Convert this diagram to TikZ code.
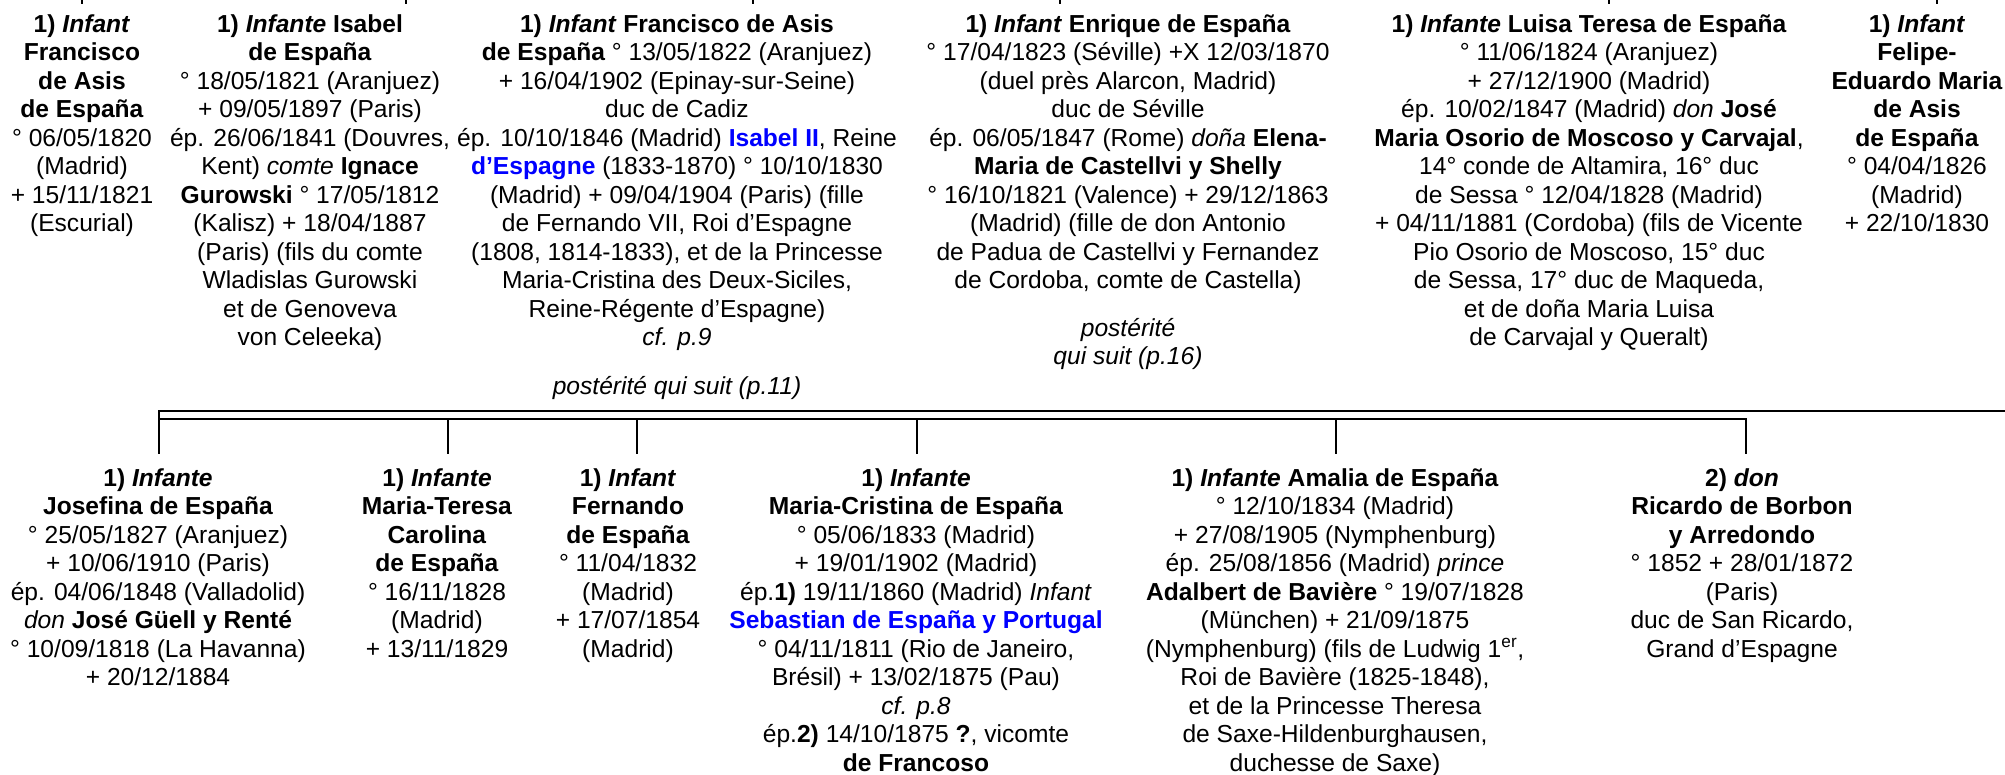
\documentclass[tikz,border=0pt]{standalone}
\usepackage{fontspec}
\setmainfont{Liberation Sans}
\begin{document}
\begin{tikzpicture}[x=1pt,y=1pt,
  person/.style={align=center, inner sep=0pt, anchor=north, font=\fontsize{24.6}{28.5}\selectfont},
  oneline/.style={inner sep=0pt, anchor=base, font=\fontsize{24.6}{28.5}\selectfont\itshape},
  bar/.style={line width=2pt, line join=miter},
  drop/.style={line width=2pt, shorten >=14pt}]
\useasboundingbox (0,0) rectangle (2005,775);
% ---------- top row ----------
\node[person] (fa) at (82,761) {\textbf{1) \textit{Infant}}\\ \textbf{Francisco}\\ \textbf{de Asis}\\ \textbf{de España}\\ ° 06/05/1820\\ (Madrid)\\ + 15/11/1821\\ (Escurial)};
\node[person] (is) at (310,761) {\textbf{1) \textit{Infante} Isabel}\\
\textbf{de España}\\
° 18/05/1821 (Aranjuez)\\
+ 09/05/1897 (Paris)\\
ép. 26/06/1841 (Douvres,\\
Kent) \textit{comte} \textbf{Ignace}\\
\textbf{Gurowski} ° 17/05/1812\\
(Kalisz) + 18/04/1887\\
(Paris) (fils du comte\\
Wladislas Gurowski\\
et de Genoveva\\
von Celeeka)};
\node[person] (fr) at (677,761) {\textbf{1) \textit{Infant} Francisco de Asis}\\
\textbf{de España} ° 13/05/1822 (Aranjuez)\\
+ 16/04/1902 (Epinay-sur-Seine)\\
duc de Cadiz\\
ép. 10/10/1846 (Madrid) \textcolor{blue}{\textbf{Isabel II}}, Reine\\
\textcolor{blue}{\textbf{d’Espagne}} (1833-1870) ° 10/10/1830\\
(Madrid) + 09/04/1904 (Paris) (fille\\
de Fernando VII, Roi d’Espagne\\
(1808, 1814-1833), et de la Princesse\\
Maria-Cristina des Deux-Siciles,\\
Reine-Régente d’Espagne)\\
\textit{cf. p.9}};
\node[oneline] (frp) at (677,380) {postérité qui suit (p.11)};
\node[person] (en) at (1128,761) {\textbf{1) \textit{Infant} Enrique de España}\\
° 17/04/1823 (Séville) +X 12/03/1870\\
(duel près Alarcon, Madrid)\\
duc de Séville\\
ép. 06/05/1847 (Rome) \textit{doña} \textbf{Elena-}\\
\textbf{Maria de Castellvi y Shelly}\\
° 16/10/1821 (Valence) + 29/12/1863\\
(Madrid) (fille de don Antonio\\
de Padua de Castellvi y Fernandez\\
de Cordoba, comte de Castella)};
\node[oneline] (enp1) at (1128,438) {postérité};
\node[oneline] (enp2) at (1128,410) {qui suit (p.16)};
\node[person] (lu) at (1589,761) {\textbf{1) \textit{Infante} Luisa Teresa de España}\\
° 11/06/1824 (Aranjuez)\\
+ 27/12/1900 (Madrid)\\
ép. 10/02/1847 (Madrid) \textit{don} \textbf{José}\\
\textbf{Maria Osorio de Moscoso y Carvajal},\\
14° conde de Altamira, 16° duc\\
de Sessa ° 12/04/1828 (Madrid)\\
+ 04/11/1881 (Cordoba) (fils de Vicente\\
Pio Osorio de Moscoso, 15° duc\\
de Sessa, 17° duc de Maqueda,\\
et de doña Maria Luisa\\
de Carvajal y Queralt)};
\node[person] (fe1) at (1917,761) {\textbf{1) \textit{Infant}}\\ \textbf{Felipe-}\\ \textbf{Eduardo Maria}\\ \textbf{de Asis}\\ \textbf{de España}\\ ° 04/04/1826\\ (Madrid)\\ + 22/10/1830};
% stubs from the row above
\foreach \n/\x in {a/82,b/406,c/753,d/1060,e/1609,f/1937}{
  \coordinate (t\n) at (\x,775);
  \draw[line width=2pt] (t\n) -- ++(0,-4);
}
% ---------- bottom row ----------
\node[person] (jo) at (158,307) {\textbf{1) \textit{Infante}}\\
\textbf{Josefina de España}\\
° 25/05/1827 (Aranjuez)\\
+ 10/06/1910 (Paris)\\
ép. 04/06/1848 (Valladolid)\\
\textit{don} \textbf{José Güell y Renté}\\
° 10/09/1818 (La Havanna)\\
+ 20/12/1884};
\node[person] (mt) at (437,307) {\textbf{1) \textit{Infante}}\\ \textbf{Maria-Teresa}\\ \textbf{Carolina}\\ \textbf{de España}\\ ° 16/11/1828\\ (Madrid)\\ + 13/11/1829};
\node[person] (fe) at (628,307) {\textbf{1) \textit{Infant}}\\ \textbf{Fernando}\\ \textbf{de España}\\ ° 11/04/1832\\ (Madrid)\\ + 17/07/1854\\ (Madrid)};
\node[person] (mc) at (916,307) {\textbf{1) \textit{Infante}}\\
\textbf{Maria-Cristina de España}\\
° 05/06/1833 (Madrid)\\
+ 19/01/1902 (Madrid)\\
ép.\textbf{1)} 19/11/1860 (Madrid) \textit{Infant}\\
\textcolor{blue}{\textbf{Sebastian de España y Portugal}}\\
° 04/11/1811 (Rio de Janeiro,\\
Brésil) + 13/02/1875 (Pau)\\
\textit{cf. p.8}\\
ép.\textbf{2)} 14/10/1875 \textbf{?}, vicomte\\
\textbf{de Francoso}};
\node[person] (am) at (1335,307) {\textbf{1) \textit{Infante} Amalia de España}\\
° 12/10/1834 (Madrid)\\
+ 27/08/1905 (Nymphenburg)\\
ép. 25/08/1856 (Madrid) \textit{prince}\\
\textbf{Adalbert de Bavière} ° 19/07/1828\\
(München) + 21/09/1875\\
(Nymphenburg) (fils de Ludwig 1\textsuperscript{er},\\
Roi de Bavière (1825-1848),\\
et de la Princesse Theresa\\
de Saxe-Hildenburghausen,\\
duchesse de Saxe)};
\node[person] (ri) at (1742,307) {\textbf{2) \textit{don}}\\ \textbf{Ricardo de Borbon}\\ \textbf{y Arredondo}\\ ° 1852 + 28/01/1872\\ (Paris)\\ duc de San Ricardo,\\ Grand d’Espagne};
% ---------- bars and drops ----------
\coordinate (barL) at (159,364);
\coordinate (barR) at (2005,364);
\coordinate (bbL) at (159,356);
\coordinate (bbR) at (1746,356);
\draw[bar, shorten >=14pt] (barR) -- (barL) -- (barL |- jo.north);
\draw[bar, shorten >=14pt] (bbL) -- (bbR) -- (bbR |- ri.north);
\foreach \n/\x in {mt/448,fe/637,mc/917,am/1336}{
  \coordinate (d\n) at (\x,356);
  \draw[drop] (d\n) -- (d\n |- \n.north);
}
\end{tikzpicture}
\end{document}
